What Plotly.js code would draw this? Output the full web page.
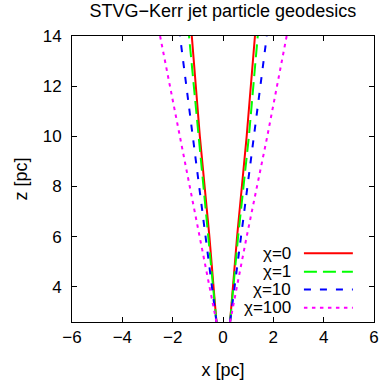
<!DOCTYPE html>
<html>
<head>
<meta charset="utf-8">
<script src="https://cdn.plot.ly/plotly-3.0.1.min.js"></script>
<style>html,body{margin:0;padding:0;background:#fff;}#chart{width:379px;height:385px;}</style>
</head>
<body>
<div id="chart"></div>
<script>
// Data
const seriesNames = ["χ=0", "χ=1", "χ=10", "χ=100"];
const seriesColors = ["#ff0000", "#00ff00", "#0000ff", "#ff00ff"];
const seriesDash = ["solid", "13px,6px", "7px,9px", "3.5px,4.5px"];
const zLevels = [2.6, 6, 10, 14];
const leftX_chi0 = [-0.26, -0.54, -0.92, -1.24];
const rightX_chi0 = [0.28, 0.56, 0.94, 1.27];
const leftX_chi1 = [-0.26, -0.58, -0.98, -1.35];
const rightX_chi1 = [0.28, 0.60, 1.03, 1.38];
const leftX_chi10 = [-0.26, -0.69, -1.18, -1.71];
const rightX_chi10 = [0.28, 0.71, 1.23, 1.74];
const leftX_chi100 = [-0.26, -0.92, -1.72, -2.50];
const rightX_chi100 = [0.28, 0.94, 1.76, 2.53];
const xTicks = [-6, -4, -2, 0, 2, 4, 6];
const yTicks = [4, 6, 8, 10, 12, 14];

const lefts = [leftX_chi0, leftX_chi1, leftX_chi10, leftX_chi100];
const rights = [rightX_chi0, rightX_chi1, rightX_chi10, rightX_chi100];

const traces = seriesNames.map((name, i) => ({
  type: "scatter",
  mode: "lines",
  name: name,
  x: lefts[i].concat([null], rights[i]),
  y: zLevels.concat([null], zLevels),
  line: {color: seriesColors[i], width: 2, dash: seriesDash[i]},
  connectgaps: false,
  hoverinfo: "skip"
}));

// gnuplot-style key: text on the left, line sample on the right
const keyRowsY = [0.240, 0.176, 0.114, 0.050];
const shapes = seriesNames.map((n, i) => ({
  type: "line", xref: "paper", yref: "paper",
  x0: 0.768, x1: 0.930, y0: keyRowsY[i], y1: keyRowsY[i],
  line: {color: seriesColors[i], width: 2, dash: seriesDash[i]}
}));
const fam = "Liberation Sans, Arial, sans-serif";
const annotations = seriesNames.map((n, i) => ({
  text: n, xref: "paper", yref: "paper", x: 0.733, y: keyRowsY[i],
  xanchor: "right", yanchor: "middle", showarrow: false,
  font: {family: fam, size: 17, color: "#000"}
}));

const tickFont = {family: fam, size: 17, color: "#000"};
const labFont = {family: fam, size: 18, color: "#000"};
const layout = {
  width: 379, height: 385,
  margin: {l: 72, r: 5, t: 36, b: 63},
  paper_bgcolor: "#fff", plot_bgcolor: "#fff",
  showlegend: false,
  font: tickFont,
  title: {text: "STVG−Kerr jet particle geodesics", font: {family: fam, size: 18, color: "#000"},
          x: 0.588, xanchor: "center", xref: "container", y: 0.972, yanchor: "middle", yref: "container"},
  xaxis: {range: [-6, 6], tickvals: xTicks, ticktext: xTicks.map(v => v < 0 ? "−" + Math.abs(v) : String(v)),
          ticks: "inside", ticklen: 5, tickcolor: "#000", mirror: "ticks", showline: true, linecolor: "#000", linewidth: 1,
          showgrid: false, zeroline: false, tickfont: tickFont,
          title: {text: "x [pc]", font: labFont, standoff: 16}},
  yaxis: {range: [2.6, 14], tickvals: yTicks,
          ticks: "inside", ticklen: 5, tickcolor: "#000", mirror: "ticks", showline: true, linecolor: "#000", linewidth: 1,
          showgrid: false, zeroline: false, tickfont: tickFont, ticklabelstandoff: 6,
          title: {text: "z [pc]", font: labFont, standoff: 10}},
  shapes: shapes,
  annotations: annotations
};

Plotly.newPlot("chart", traces, layout, {displayModeBar: false, staticPlot: true});
</script>
</body>
</html>
